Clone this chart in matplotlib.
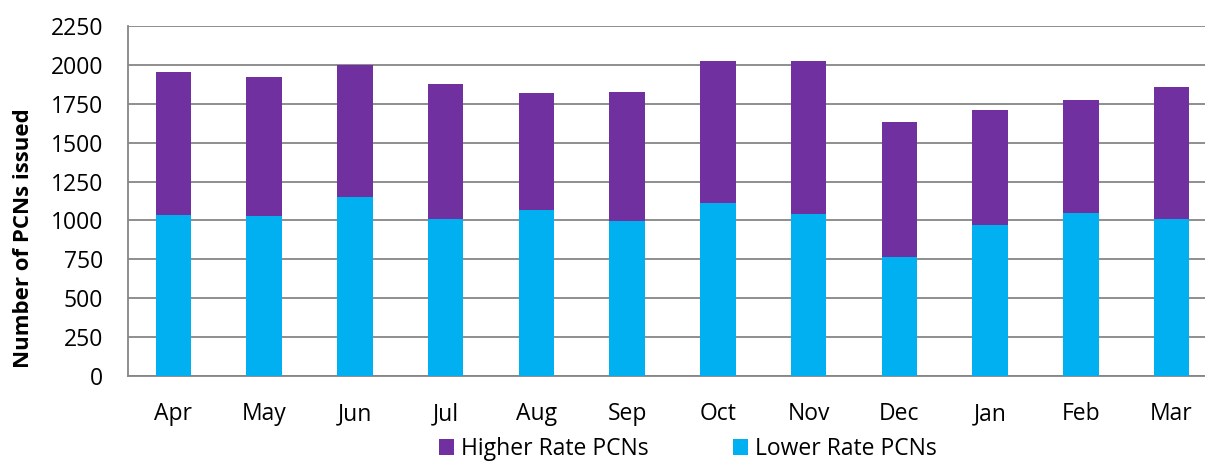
import numpy as np
import matplotlib
matplotlib.use('Agg')
import matplotlib.pyplot as plt

# ===== DATA =====
months = ['Apr', 'May', 'Jun', 'Jul', 'Aug', 'Sep', 'Oct', 'Nov', 'Dec', 'Jan', 'Feb', 'Mar']
lower_rate = [1037, 1029, 1149, 1011, 1069, 994, 1112, 1039, 763, 973, 1048, 1011]
totals = [1956, 1920, 1997, 1875, 1817, 1824, 2027, 2025, 1633, 1712, 1772, 1860]
higher_rate = [t - l for t, l in zip(totals, lower_rate)]
y_ticks = list(range(0, 2251, 250))

PURPLE = '#7030A0'
CYAN = '#00B0F0'
GRID = '#868686'

plt.rcParams['font.family'] = ['Open Sans', 'DejaVu Sans']

# ===== FIGURE =====
fig = plt.figure(figsize=(12.05, 4.61), dpi=100)
ax = fig.add_axes([128 / 1205, 85 / 461, 1089 / 1205, 350 / 461])

x = np.arange(len(months))
ax.bar(x, lower_rate, width=0.39, color=CYAN, label='Lower Rate PCNs', zorder=3)
ax.bar(x, higher_rate, width=0.39, bottom=lower_rate, color=PURPLE,
       label='Higher Rate PCNs', zorder=3)

ax.set_xlim(-0.5, len(months) - 0.5)
ax.set_ylim(0, 2250)
ax.set_yticks(y_ticks)
ax.set_xticks(x)
ax.set_xticklabels(months)
ax.yaxis.grid(True, color=GRID, linewidth=1.3, zorder=0)
ax.set_axisbelow(True)

for s in ['top', 'right']:
    ax.spines[s].set_visible(False)
for s in ['left', 'bottom']:
    ax.spines[s].set_color(GRID)
    ax.spines[s].set_linewidth(1.3)

ax.tick_params(axis='both', length=0, labelsize=16.5, colors='black')
ax.tick_params(axis='x', pad=19)
ax.tick_params(axis='y', pad=18)

ax.set_ylabel('Number of PCNs issued', fontsize=16, fontweight='bold')
ax.yaxis.set_label_coords(-94 / 1089, 0.394)

handles, labels = ax.get_legend_handles_labels()
fig.legend(handles[::-1], labels[::-1], loc='center', ncol=2,
           bbox_to_anchor=(688 / 1205, 12 / 461), frameon=False,
           fontsize=16.5, handlelength=0.65, handleheight=0.65,
           handletextpad=0.3, columnspacing=3.7, borderpad=0)

fig.savefig('out.png', dpi=100)
